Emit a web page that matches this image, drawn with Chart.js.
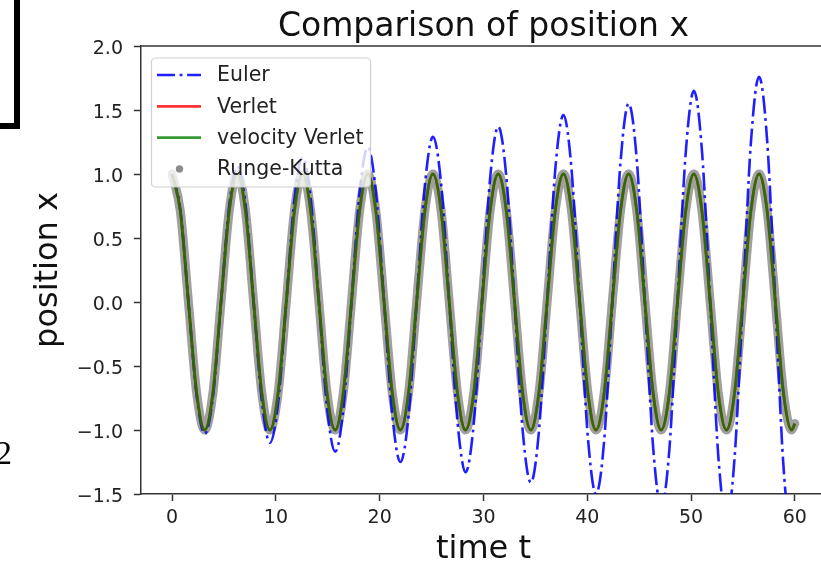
<!DOCTYPE html>
<html>
<head>
<meta charset="utf-8">
<script src="https://cdn.jsdelivr.net/npm/chart.js"></script>
<style>
  html, body { margin: 0; padding: 0; overflow: hidden; background: #fff; }
  #wrap { position: relative; width: 821px; height: 566px; overflow: hidden; }
  #myChart { position: absolute; left: 0; top: 0; }
  /* bits of a neighbouring figure that are cut into the picture */
  .frag-box { position: absolute; left: -10px; top: -10px; width: 24px; height: 133px;
              border-right: 6px solid #000; border-bottom: 6px solid #000; }
  .frag-two { position: absolute; left: -5px; top: 436px; font: 34px/34px "Liberation Serif", serif; color: #000; }
</style>
</head>
<body>
<div id="wrap">
  <canvas id="myChart" width="830" height="566"></canvas>
  <div class="frag-box"></div>
  <span class="frag-two">2</span>
</div>
<script>
// sample times, one every eighth of a period
const timeT = [
  0, 0.79, 1.57, 2.36, 3.14, 3.93, 4.71, 5.50,
  6.28, 7.07, 7.85, 8.64, 9.42, 10.21, 11.00, 11.78,
  12.57, 13.35, 14.14, 14.92, 15.71, 16.49, 17.28, 18.06,
  18.85, 19.63, 20.42, 21.21, 21.99, 22.78, 23.56, 24.35,
  25.13, 25.92, 26.70, 27.49, 28.27, 29.06, 29.85, 30.63,
  31.42, 32.20, 32.99, 33.77, 34.56, 35.34, 36.13, 36.91,
  37.70, 38.48, 39.27, 40.06, 40.84, 41.63, 42.41, 43.20,
  43.98, 44.77, 45.55, 46.34, 47.12, 47.91, 48.69, 49.48,
  50.27, 51.05, 51.84, 52.62, 53.41, 54.19, 54.98, 55.76,
  56.55, 57.33, 58.12, 58.90, 59.69, 60.00
];

// Euler grows a bit every swing
const eulerX = [
  1.00, 0.72, 0, -0.73, -1.03, -0.74, 0, 0.75,
  1.06, 0.76, 0, -0.77, -1.10, -0.79, 0, 0.80,
  1.13, 0.81, 0, -0.82, -1.17, -0.84, 0, 0.85,
  1.21, 0.86, 0, -0.88, -1.25, -0.89, 0, 0.91,
  1.29, 0.92, 0, -0.93, -1.33, -0.95, 0, 0.96,
  1.37, 0.98, 0, -1.00, -1.41, -1.01, 0, 1.03,
  1.46, 1.04, 0, -1.06, -1.50, -1.08, 0, 1.09,
  1.55, 1.11, 0, -1.13, -1.60, -1.15, 0, 1.16,
  1.65, 1.18, 0, -1.20, -1.70, -1.22, 0, 1.24,
  1.76, 1.26, 0, -1.28, -1.82, -1.73
];

// Verlet, velocity Verlet and Runge-Kutta sit right on top of each other
const verletX = [
  1, 0.71, 0, -0.71, -1, -0.71, 0, 0.71,
  1, 0.71, 0, -0.71, -1, -0.71, 0, 0.71,
  1, 0.71, 0, -0.71, -1, -0.71, 0, 0.71,
  1, 0.71, 0, -0.71, -1, -0.71, 0, 0.71,
  1, 0.71, 0, -0.71, -1, -0.71, 0, 0.71,
  1, 0.71, 0, -0.71, -1, -0.71, 0, 0.71,
  1, 0.71, 0, -0.71, -1, -0.71, 0, 0.71,
  1, 0.71, 0, -0.71, -1, -0.71, 0, 0.71,
  1, 0.71, 0, -0.71, -1, -0.71, 0, 0.71,
  1, 0.71, 0, -0.71, -1, -0.95
];
const velVerletX = verletX;
const rungeKuttaX = verletX;

const xTicks = [0, 10, 20, 30, 40, 50, 60];
const yTicks = [-1.5, -1.0, -0.5, 0.0, 0.5, 1.0, 1.5, 2.0];

const toPoints = ys => timeT.map((t, i) => ({ x: t, y: ys[i] }));

Chart.defaults.font.family = '"DejaVu Sans", sans-serif';
Chart.defaults.color = '#222';

const ctx = document.getElementById('myChart');

// matplotlib style bits: title over the axes, top spine, legend box
const mplBits = {
  id: 'mplBits',
  afterDraw(chart) {
    const c = chart.ctx;
    const a = chart.chartArea;
    c.save();
    // top spine
    c.strokeStyle = '#333';
    c.lineWidth = 1.5;
    c.beginPath();
    c.moveTo(a.left, a.top);
    c.lineTo(a.right, a.top);
    c.stroke();
    // title
    c.fillStyle = '#111';
    c.font = '33px "DejaVu Sans"';
    c.textAlign = 'center';
    c.textBaseline = 'alphabetic';
    c.fillText('Comparison of position x', (a.left + a.right) / 2, 36);
    // legend
    const bx = 151.5, by = 58, bw = 219, bh = 129;
    c.beginPath();
    c.roundRect(bx, by, bw, bh, 4);
    c.fillStyle = 'rgba(255,255,255,0.8)';
    c.fill();
    c.strokeStyle = 'rgba(204,204,204,0.9)';
    c.lineWidth = 1.2;
    c.stroke();
    c.font = '20.5px "DejaVu Sans"';
    c.textAlign = 'left';
    c.textBaseline = 'middle';
    chart.data.datasets.forEach((ds, i) => {
      const y = 75 + i * 31.3;
      if (ds.legendDot) {
        c.fillStyle = ds.legendDot;
        c.beginPath();
        c.arc(179.5, y, 3.7, 0, Math.PI * 2);
        c.fill();
      } else {
        c.strokeStyle = ds.borderColor;
        c.lineWidth = ds.borderWidth;
        c.setLineDash(ds.borderDash || []);
        c.beginPath();
        c.moveTo(157, y);
        c.lineTo(201, y);
        c.stroke();
        c.setLineDash([]);
      }
      c.fillStyle = '#222';
      c.fillText(ds.label, 217, y + 1);
    });
    c.restore();
  }
};

new Chart(ctx, {
  type: 'line',
  data: {
    datasets: [
      {
        label: 'Euler',
        data: toPoints(eulerX),
        borderColor: 'rgba(0,0,255,0.88)',
        borderWidth: 2.6,
        borderDash: [18, 4.6, 2.9, 4.6],
        order: 2,
        clip: 0
      },
      {
        label: 'Verlet',
        data: toPoints(verletX),
        borderColor: 'rgba(255,0,0,0.8)',
        borderWidth: 2.8,
        order: 1
      },
      {
        label: 'velocity Verlet',
        data: toPoints(velVerletX),
        borderColor: 'rgba(0,128,0,0.8)',
        borderWidth: 2.8,
        order: 0
      },
      {
        label: 'Runge-Kutta',
        data: toPoints(rungeKuttaX),
        borderColor: 'rgba(128,128,128,0.75)',
        borderWidth: 9,
        borderCapStyle: 'round',
        legendDot: 'rgba(128,128,128,0.9)',
        order: 3
      }
    ]
  },
  options: {
    responsive: false,
    animation: false,
    events: [],
    layout: { padding: { top: 46, right: 4, left: 0, bottom: 0 } },
    elements: {
      point: { radius: 0 },
      line: { cubicInterpolationMode: 'monotone', fill: false }
    },
    plugins: {
      legend: { display: false },
      tooltip: { enabled: false },
      title: { display: false }
    },
    scales: {
      x: {
        type: 'linear',
        min: -3,
        max: 63,
        afterBuildTicks: s => { s.ticks = xTicks.map(v => ({ value: v })); },
        afterFit: s => { s.height = 72; },
        ticks: { font: { size: 19 }, color: '#222', padding: 6 },
        grid: { drawOnChartArea: false, tickLength: 7, tickColor: '#333', tickWidth: 1.5 },
        border: { color: '#333', width: 1.5 },
        title: {
          display: true,
          text: 'time t',
          color: '#111',
          font: { size: 32, lineHeight: 1 },
          padding: { top: 0, bottom: 0 }
        }
      },
      y: {
        min: -1.5,
        max: 2.0,
        afterBuildTicks: s => { s.ticks = yTicks.map(v => ({ value: v })); },
        afterFit: s => { s.width = 141; },
        ticks: {
          font: { size: 19 },
          color: '#222',
          padding: 11,
          labelOffset: 3,
          callback: v => v.toFixed(1).replace('-', '\u2212')
        },
        grid: { drawOnChartArea: false, tickLength: 7, tickColor: '#333', tickWidth: 1.5 },
        border: { color: '#333', width: 1.5 },
        title: {
          display: true,
          text: 'position x',
          color: '#111',
          font: { size: 32, lineHeight: 1 },
          padding: { top: 33, bottom: 0 }
        }
      }
    }
  },
  plugins: [mplBits]
});
</script>
</body>
</html>
